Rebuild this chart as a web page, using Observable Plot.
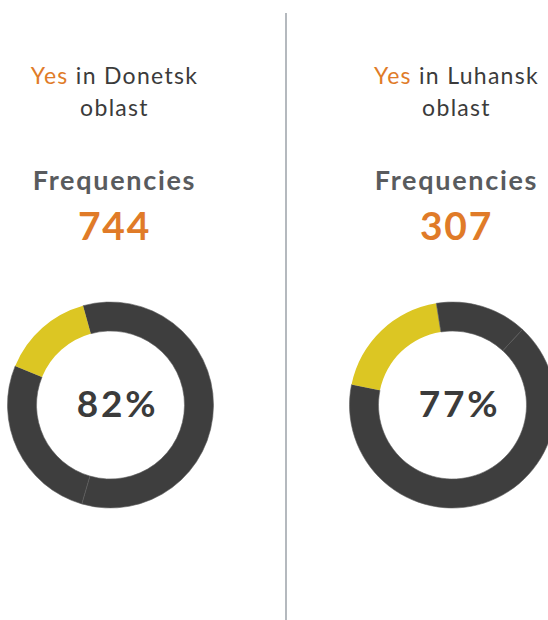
<!DOCTYPE html>
<html>
<head>
<meta charset="utf-8">
<script src="https://cdn.jsdelivr.net/npm/d3@7"></script>
<script src="https://cdn.jsdelivr.net/npm/@observablehq/plot@0.6"></script>
<style>
  html, body { margin: 0; padding: 0; background: #fff; }
  #chart svg { display: block; font-family: Lato, "Open Sans", sans-serif; }
  #chart .title-line1 text, #chart .title-line2 text { letter-spacing: 1.3px; }
  #chart .freq-label text { letter-spacing: 1.7px; }
  #chart .freq-value text { letter-spacing: 1.8px; }
  #chart .pct text { letter-spacing: 2.8px; }
</style>
</head>
<body>
<div id="chart"></div>
<script>
// ---- data ----
const regions = ["Donetsk", "Luhansk"];
const frequencies = [744, 307];
const percents = ["82%", "77%"];
// donut slices, clockwise from each donut's start angle
const donetskValues = [58.8, 26.7, 14.5];
const donetskKinds = ["dark", "dark", "yellow"];
const luhanskValues = [66.3, 19.3, 14.4];
const luhanskKinds = ["dark", "yellow", "dark"];
const startAngles = [-15.5, 42.8]; // degrees, clockwise from 12 o'clock

// ---- layout / styles ----
const layout = {
  width: 548, height: 620,
  title1Y: 83, title2Y: 115, freqLabelY: 189, freqY: 239, donutY: 405,
  donutDx: -3.5, pctDx: 3, outerR: 103, innerR: 74, dividerTop: 13
};
const colors = { dark: "#3e3e3e", yellow: "#dcc623", orange: "#e07b28", text: "#3b3b3b", label: "#595b5e", rule: "#838a93" };

const slices = [
  donetskValues.map((v, i) => ({ value: v, kind: donetskKinds[i] })),
  luhanskValues.map((v, i) => ({ value: v, kind: luhanskKinds[i] }))
];

function donutMark(index, scales) {
  const g = d3.create("svg:g");
  // divider between the two panels
  const xm = (scales.x(regions[0]) + scales.x(regions[1])) / 2 + 1;
  g.append("line")
    .attr("x1", xm).attr("x2", xm)
    .attr("y1", scales.y(layout.dividerTop)).attr("y2", scales.y(layout.height))
    .attr("stroke", colors.rule).attr("stroke-width", 1.2);
  regions.forEach((r, i) => {
    const a0 = startAngles[i] * Math.PI / 180;
    const pie = d3.pie().sort(null).value(d => d.value).startAngle(a0).endAngle(a0 + 2 * Math.PI);
    const arc = d3.arc().innerRadius(layout.innerR).outerRadius(layout.outerR);
    g.append("g")
      .attr("transform", `translate(${scales.x(r) + layout.donutDx},${scales.y(layout.donutY)})`)
      .selectAll("path")
      .data(pie(slices[i]))
      .join("path")
      .attr("d", arc)
      .attr("fill", d => colors[d.data.kind])
      .attr("stroke", d => d.data.kind === "dark" ? "#5e5e5e" : "none")
      .attr("stroke-width", 0.6);
  });
  return g.node();
}

const rows = regions.map((r, i) => ({ region: r, freq: frequencies[i], pct: percents[i] }));

const plot = Plot.plot({
  width: layout.width,
  height: layout.height,
  margin: 0,
  x: { type: "point", domain: regions, range: [114, 456], padding: 0, axis: null },
  y: { type: "linear", domain: [0, layout.height], range: [0, layout.height], axis: null },
  style: { fontFamily: "Lato, 'Open Sans', sans-serif", background: "#fff" },
  marks: [
    donutMark,
    Plot.text(rows, { x: "region", y: () => layout.title1Y, text: d => `Yes in ${d.region}`,
      fontSize: 23, fill: colors.text, lineAnchor: "bottom", className: "title-line1" }),
    Plot.text(rows, { x: "region", y: () => layout.title2Y, text: () => "oblast",
      fontSize: 23, fill: colors.text, lineAnchor: "bottom", className: "title-line2" }),
    Plot.text(rows, { x: "region", y: () => layout.freqLabelY, text: () => "Frequencies",
      fontSize: 27, fontWeight: 700, fill: colors.label, lineAnchor: "bottom", className: "freq-label" }),
    Plot.text(rows, { x: "region", y: () => layout.freqY, text: d => String(d.freq),
      fontSize: 39, fontWeight: 700, fill: colors.orange, lineAnchor: "bottom", className: "freq-value" }),
    Plot.text(rows, { x: "region", y: () => layout.donutY, text: "pct", dx: layout.pctDx,
      fontSize: 37, fontWeight: 700, fill: colors.text, lineAnchor: "middle", className: "pct" })
  ]
});

// colour the word "Yes" in each title
plot.querySelectorAll("g.title-line1 text").forEach(t => {
  const s = t.textContent;
  const rest = s.slice(3);
  t.textContent = "";
  const ts = document.createElementNS("http://www.w3.org/2000/svg", "tspan");
  ts.setAttribute("fill", colors.orange);
  ts.textContent = "Yes";
  t.appendChild(ts);
  t.appendChild(document.createTextNode(rest));
});

document.getElementById("chart").appendChild(plot);
</script>
</body>
</html>
